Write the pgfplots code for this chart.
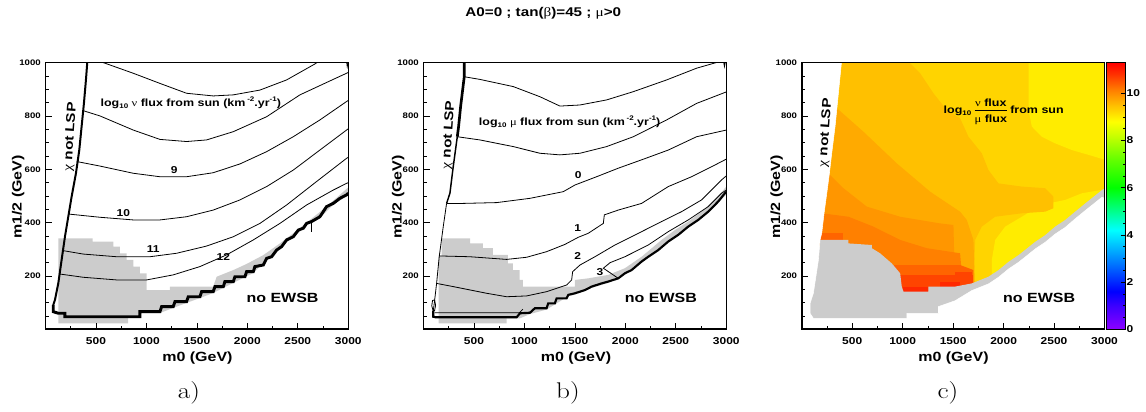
\documentclass[border=0pt]{standalone}
\usepackage{amsmath}
\usepackage{graphicx}
\usepackage{fontspec}
\usepackage{pgfplots}
\pgfplotsset{compat=1.18}
\newfontfamily\rf[FakeStretch=1.2]{Liberation Sans}
\newfontfamily\gr[FakeStretch=1.2]{Liberation Serif}
\definecolor{rgray}{RGB}{204,204,204}
\definecolor{cgold}{RGB}{255,212,0}
\definecolor{cyel}{RGB}{255,236,0}
\definecolor{camber}{RGB}{255,192,0}
\definecolor{corange}{RGB}{255,170,0}
\definecolor{cdor}{RGB}{255,150,0}
\definecolor{cdor2}{RGB}{255,128,0}
\definecolor{cred1}{RGB}{255,100,0}
\definecolor{cred2}{RGB}{255,68,0}
\definecolor{cred3}{RGB}{255,40,0}
\tikzset{
  clab/.style={font=\rf\bfseries\fontsize{7.5}{9}\selectfont},
  cline/.style={black, line width=0.6pt},
}
\pgfplotsset{
  colormap={rootpal}{rgb255(0cm)=(140,0,255); rgb255(1cm)=(60,0,255); rgb255(1.6cm)=(0,0,255); rgb255(2.8cm)=(0,120,255); rgb255(4.2cm)=(0,255,255); rgb255(5cm)=(0,255,140); rgb255(6cm)=(0,255,0); rgb255(7.2cm)=(100,255,0); rgb255(8.2cm)=(200,255,0); rgb255(8.8cm)=(255,255,0); rgb255(9.5cm)=(255,190,0); rgb255(10.2cm)=(255,120,0); rgb255(10.8cm)=(255,50,0); rgb255(11.3cm)=(255,0,0)},
  /pgf/number format/assume math mode=true,
  /pgf/number format/1000 sep={},
  rootax/.style={
    scale only axis, width=227.1pt, height=200pt,
    anchor=south west,
    xmin=0, xmax=3000, ymin=0, ymax=1000,
    xtick={500,1000,1500,2000,2500,3000},
    ytick={200,400,600,800,1000},
    minor xtick={250,750,1250,1750,2250,2750},
    minor ytick={50,100,150,250,300,350,450,500,550,650,700,750,850,900,950},
    tick align=inside, tick pos=left,
    major tick length=5pt, minor tick length=2.6pt,
    axis on top,
    axis line style={line width=0.5pt},
    tick style={line width=0.5pt, black},
    scaled ticks=false,
    xticklabel style={font=\rf\bfseries\fontsize{7.5}{8}\selectfont, anchor=center, yshift=-8.8pt},
    yticklabel style={font=\rf\bfseries\fontsize{6}{7}\selectfont},
  },
}
\newcommand{\sub}[1]{\raisebox{-0.45ex}{\fontsize{5}{6}\selectfont #1}}
\newcommand{\sups}[1]{\raisebox{0.9ex}{\fontsize{5}{6}\selectfont #1}}
\begin{document}
\begin{tikzpicture}
\useasboundingbox (0,0) rectangle (859.5pt,308.25pt);
%================ panel a
\begin{axis}[rootax, name=pa, at={(34.1pt,61.3pt)}]
\addplot[fill=rgray, draw=none] coordinates {(127,22) (127,341) (467,341) (467,329) (672,329) (672,310) (738,310) (738,285) (804,285) (804,260) (870,260) (870,235) (936,235) (936,210) (1002,210) (1002,147) (1233,147) (1233,160) (1662,160) (1696,197) (1861,222) (1993,245) (2158,278) (2323,322) (2455,360) (2587,400) (2719,440) (2851,482) (3000,532) (3000,500) (2983,499) (2851,467) (2719,417) (2587,392) (2455,342) (2389,330) (2191,261) (2059,211) (1861,174) (1662,136) (1530,117) (1398,99) (1266,80) (1134,61) (936,61) (936,47) (820,47) (820,22)} -- cycle;
\addplot[cline] coordinates {(573,1000) (870,960) (1134,922) (1398,885) (1662,875) (1861,879) (2125,897) (2389,935) (2670,995) (2690,1000)};
\addplot[cline] coordinates {(372,820) (540,800) (870,747) (1134,712) (1398,704) (1596,710) (1861,741) (2191,797) (2521,879) (2851,937) (2983,960) (3000,963)};
\addplot[cline] coordinates {(310,629) (540,612) (870,585) (1134,572) (1398,572) (1662,587) (1927,620) (2191,666) (2455,722) (2719,785) (2983,854) (3000,858)};
\addplot[cline] coordinates {(230,432) (540,420) (870,410) (1134,410) (1398,422) (1662,447) (1927,485) (2191,535) (2455,597) (2719,672) (2983,747) (3000,752)};
\addplot[cline] coordinates {(173,295) (374,282) (705,272) (1035,272) (1299,285) (1596,312) (1861,347) (2125,397) (2389,466) (2686,554) (2983,641) (3000,645)};
\addplot[cline] coordinates {(145,207) (374,195) (705,185) (1002,185) (1266,204) (1530,235) (1795,279) (2059,335) (2323,397) (2587,466) (2851,522) (2983,547) (3000,550)};
\addplot[cline] coordinates {(2985,1000) (2990,985) (2998,1000)};
\addplot[black, line width=1.5pt] coordinates {(414,1000) (401,935) (381,847) (358,760) (335,672) (302,585) (259,497) (226,422) (193,347) (160,260) (127,172) (94,110) (77,91)};
\addplot[black, line width=2.2pt] coordinates {(77,91) (77,66) (127,60) (193,60) (193,47) (936,47) (936,66) (1134,66) (1151,85) (1266,85) (1283,104) (1398,104) (1415,122) (1530,122) (1547,141) (1662,141) (1679,160) (1762,160) (1778,179) (1861,179) (1877,197) (1976,197) (1993,216) (2059,216) (2075,235) (2158,241) (2191,266) (2241,272) (2290,297) (2340,310) (2389,335) (2455,347) (2505,372) (2555,379) (2587,397) (2637,404) (2719,422) (2785,460) (2851,472) (2917,491) (2983,504) (3000,510)};
\addplot[black, line width=1.3pt] coordinates {(2637,404) (2637,366)};
\node[clab] at (axis cs:1276,597) {9};
\node[clab] at (axis cs:771,435) {10};
\node[clab] at (axis cs:1068,301) {11};
\node[clab] at (axis cs:1762,272) {12};
\node[anchor=west, font=\rf\bfseries\fontsize{7.8}{9}\selectfont] at (axis cs:500,850) {log\sub{10} {\gr\mdseries ν} flux from sun (km\,\sups{-2}.yr\sups{-1})};
\node[font=\rf\bfseries\fontsize{10}{12}\selectfont] at (axis cs:2349,116) {no EWSB};
\node[rotate=86, font=\rf\bfseries\fontsize{9.5}{11}\selectfont] at (axis cs:249,722) {{\gr\mdseries χ} not LSP};
\end{axis}
\draw[line width=1.2pt] (pa.north west) -- (pa.south west) -- (pa.south east);
%================ panel b
\begin{axis}[rootax, name=pb, at={(317.6pt,61.3pt)}]
\addplot[fill=rgray, draw=none] coordinates {(150,22) (150,275) (180,275) (180,341) (461,341) (461,322) (588,322) (588,304) (687,304) (687,279) (836,279) (836,247) (885,247) (885,222) (952,222) (952,185) (985,185) (985,160) (1501,160) (1501,185) (1633,191) (1831,204) (1996,229) (2161,272) (2359,335) (2491,372) (2623,404) (2755,441) (2887,485) (3000,535) (3000,505) (2920,474) (2821,436) (2623,380) (2425,324) (2227,267) (1996,205) (1831,174) (1666,155) (1501,130) (1435,124) (1220,74) (1055,57) (956,41) (824,41) (824,22)} -- cycle;
\addplot[cline] coordinates {(404,947) (559,937) (890,910) (1154,872) (1352,837) (1550,841) (1814,860) (2079,891) (2409,935) (2706,979) (2900,1000)};
\addplot[cline] coordinates {(335,722) (559,710) (890,685) (1154,660) (1352,654) (1550,660) (1814,685) (2079,722) (2409,785) (2706,847) (3000,890)};
\addplot[cline] coordinates {(229,472) (394,472) (725,475) (1055,491) (1385,516) (1501,541) (1715,572) (1930,604) (2180,638) (2425,672) (2706,722) (3000,747)};
\addplot[cline] coordinates {(156,275) (460,272) (824,262) (1022,270) (1220,291) (1400,318) (1534,345) (1633,360) (1782,397) (1792,429) (1930,447) (2161,472) (2425,535) (2656,572) (2888,616) (3000,638)};
\addplot[cline] coordinates {(130,172) (295,160) (625,135) (824,122) (1022,125) (1220,141) (1419,166) (1468,185) (1478,216) (1551,241) (1699,272) (1897,316) (2161,366) (2359,404) (2557,441) (2755,485) (2953,560) (3000,575)};
\addplot[cline] coordinates {(1930,191) (1782,229) (1850,250) (1996,272) (2227,316) (2425,366) (2623,410) (2821,460) (2953,510) (3000,522)};
\addplot[cline] coordinates {(110,62) (950,62) (985,75)};
\addplot[cline] coordinates {(95,70) (82,88) (90,108) (110,110) (120,90) (110,70) (95,70)};
\addplot[cline] coordinates {(2975,1000) (2982,985) (2990,1000)};
\addplot[black, line width=2pt] coordinates {(404,1000) (404,947) (388,897) (368,835) (348,760) (335,722)};
\addplot[black, line width=1.1pt] coordinates {(335,722) (295,610) (262,510) (229,472)};
\addplot[cline] coordinates {(229,472) (196,385) (156,272) (130,172) (107,97) (97,70)};
\addplot[black, line width=1.6pt] coordinates {(97,70) (97,47) (120,45) (923,45) (956,60) (1055,62) (1104,79) (1220,79) (1236,97) (1302,97) (1319,116) (1418,116) (1435,129) (1501,135) (1600,147) (1666,160) (1765,172) (1831,179) (1930,191) (1996,210) (2062,222) (2161,254) (2227,272) (2326,297) (2425,329) (2524,354) (2623,385) (2722,410) (2821,441) (2920,479) (2986,510) (3000,515)};
\node[clab] at (axis cs:1534,579) {0};
\node[clab] at (axis cs:1527,381) {1};
\node[clab] at (axis cs:1527,275) {2};
\node[clab] at (axis cs:1748,216) {3};
\node[anchor=west, font=\rf\bfseries\fontsize{7.8}{9}\selectfont] at (axis cs:503,779) {log\sub{10} {\gr\mdseries μ} flux from sun (km\,\sups{-2}.yr\sups{-1})};
\node[font=\rf\bfseries\fontsize{10}{12}\selectfont] at (axis cs:2353,116) {no EWSB};
\node[rotate=86, font=\rf\bfseries\fontsize{9.5}{11}\selectfont] at (axis cs:252,729) {{\gr\mdseries χ} not LSP};
\end{axis}
\draw[line width=1.2pt] (pb.north west) -- (pb.south west) -- (pb.south east);
%================ panel c
\begin{axis}[rootax, name=pc, at={(601.3pt,61.3pt)},
  colorbar, colormap name=rootpal,
  point meta min=0, point meta max=11.3,
  colorbar shift/.style={},
  colorbar style={
    width=14.3pt,
    at={(parent axis.north east)}, anchor=north west, xshift=1.3pt,
    ytick={0,2,4,6,8,10}, minor y tick num=3,
    tick align=inside, ytick pos=right, yticklabel pos=right,
    major tick length=3.5pt, minor tick length=1.8pt,
    tick style={line width=0.5pt, black},
    yticklabel style={font=\rf\bfseries\fontsize{7.5}{8}\selectfont, anchor=west, inner sep=0.8pt},
    axis line style={line width=0.5pt},
  }]
\addplot[fill=cgold, draw=none] coordinates {(-10,-10) (3010,-10) (3010,1010) (-10,1010)} -- cycle;
\addplot[fill=cyel, draw=none] coordinates {(2247,1010) (2247,822) (2280,760) (2379,722) (2512,697) (2677,672) (2842,654) (3010,635) (3010,1010)} -- cycle;
\addplot[fill=cyel, draw=none] coordinates {(1883,210) (1883,260) (1917,335) (2016,385) (2181,422) (2346,460) (2445,472) (2610,485) (2776,510) (3010,525) (3010,100) (1900,100)} -- cycle;
\addplot[fill=camber, draw=none] coordinates {(-10,1010) (1041,1010) (1173,960) (1305,885) (1437,822) (1569,791) (1652,722) (1784,660) (1850,597) (1949,547) (2181,535) (2412,529) (2494,497) (2494,454) (2412,441) (2181,435) (1916,422) (1784,385) (1718,335) (1701,135) (-10,135)} -- cycle;
\addplot[fill=corange, draw=none] coordinates {(-10,835) (330,835) (611,741) (942,622) (1272,516) (1569,441) (1635,410) (1701,335) (1718,135) (-10,135)} -- cycle;
\addplot[fill=cdor, draw=none] coordinates {(-10,585) (264,585) (413,529) (644,460) (975,422) (1371,397) (1503,391) (1520,135) (-10,135)} -- cycle;
\addplot[fill=cdor2, draw=none] coordinates {(-10,435) (198,435) (463,422) (710,385) (975,335) (1239,304) (1569,285) (1602,135) (-10,135)} -- cycle;
\addplot[fill=cred1, draw=none] coordinates {(909,241) (1569,241) (1701,222) (1701,135) (909,135)} -- cycle;
\addplot[fill=cred1, draw=none] coordinates {(150,360) (413,360) (413,329) (150,329)} -- cycle;
\addplot[fill=cred2, draw=none] coordinates {(975,204) (1701,204) (1701,135) (975,135)} -- cycle;
\addplot[fill=cred2, draw=none] coordinates {(1520,216) (1685,216) (1685,179) (1520,179)} -- cycle;
\addplot[fill=cred3, draw=none] coordinates {(1008,160) (1255,160) (1255,135) (1008,135)} -- cycle;
\addplot[fill=cred3, draw=none] coordinates {(1371,179) (1569,179) (1569,160) (1371,160)} -- cycle;
\addplot[fill=rgray, draw=none] coordinates {(181,335) (463,335) (463,322) (694,316) (694,304) (776,285) (892,247) (975,210) (991,160) (1008,141) (1255,141) (1255,160) (1520,160) (1685,172) (1850,197) (1950,222) (2049,253) (2148,278) (2231,303) (2313,328) (2412,353) (2511,385) (2611,410) (2709,441) (2809,472) (2892,497) (2974,522) (3010,530) (3010,480) (2974,485) (2892,460) (2809,435) (2709,404) (2611,372) (2511,347) (2412,316) (2313,291) (2231,266) (2148,241) (2049,216) (1950,185) (1850,160) (1685,135) (1520,97) (1355,75) (1355,50) (1041,50) (1041,31) (115,31) (72,60) (72,97) (105,135) (160,260)} -- cycle;
\addplot[fill=white, draw=white, line width=0.4pt] coordinates {(-10,1010) (396,1010) (353,847) (330,760) (297,660) (274,585) (248,510) (221,435) (198,360) (181,335) (165,260) (115,135) (82,97) (82,60) (115,41) (1041,41) (1041,60) (1355,60) (1355,85) (1520,107) (1685,145) (1850,170) (1950,195) (2049,226) (2148,251) (2231,276) (2313,301) (2412,326) (2511,357) (2611,382) (2709,414) (2809,445) (2892,470) (2974,495) (3010,490) (3010,-10) (-10,-10)} -- cycle;
\node[anchor=west, font=\rf\bfseries\fontsize{7.8}{9}\selectfont, inner sep=0pt] at (axis cs:1404,816) {log\sub{10}\,$\genfrac{}{}{0.9pt}{0}{\text{{\gr\mdseries ν} flux}}{\text{{\gr\mdseries μ} flux}}$\,from sun};
\node[font=\rf\bfseries\fontsize{10}{12}\selectfont] at (axis cs:2352,116) {no EWSB};
\node[rotate=86, font=\rf\bfseries\fontsize{9.5}{11}\selectfont] at (axis cs:238,737) {{\gr\mdseries χ} not LSP};
\end{axis}
\draw[line width=1.2pt] (pc.north west) -- (pc.south west) -- (pc.south east);
%================ outer texts
\node[font=\rf\bfseries\fontsize{9.5}{11}\selectfont] at (407.5pt,298.5pt) {A0=0 ; tan({\gr\mdseries β})=45 ; {\gr\mdseries μ}>0};
\node[rotate=90, font=\rf\bfseries\fontsize{10}{12}\selectfont] at (13.7pt,160.5pt) {m1/2 (GeV)};
\node[rotate=90, font=\rf\bfseries\fontsize{10}{12}\selectfont] at (298.7pt,160.5pt) {m1/2 (GeV)};
\node[rotate=90, font=\rf\bfseries\fontsize{10}{12}\selectfont] at (582.5pt,160.5pt) {m1/2 (GeV)};
\node[font=\rf\bfseries\fontsize{10}{12}\selectfont] at (148.1pt,39.75pt) {m0 (GeV)};
\node[font=\rf\bfseries\fontsize{10}{12}\selectfont] at (432pt,39.75pt) {m0 (GeV)};
\node[font=\rf\bfseries\fontsize{10}{12}\selectfont] at (715.1pt,39.75pt) {m0 (GeV)};
\node[font=\fontsize{17}{20}\selectfont] at (141.75pt,13.5pt) {\scalebox{1.2}[1]{a)}};
\node[font=\fontsize{17}{20}\selectfont] at (426pt,13.5pt) {\scalebox{1.2}[1]{b)}};
\node[font=\fontsize{17}{20}\selectfont] at (711pt,13.5pt) {\scalebox{1.2}[1]{c)}};
\end{tikzpicture}
\end{document}
